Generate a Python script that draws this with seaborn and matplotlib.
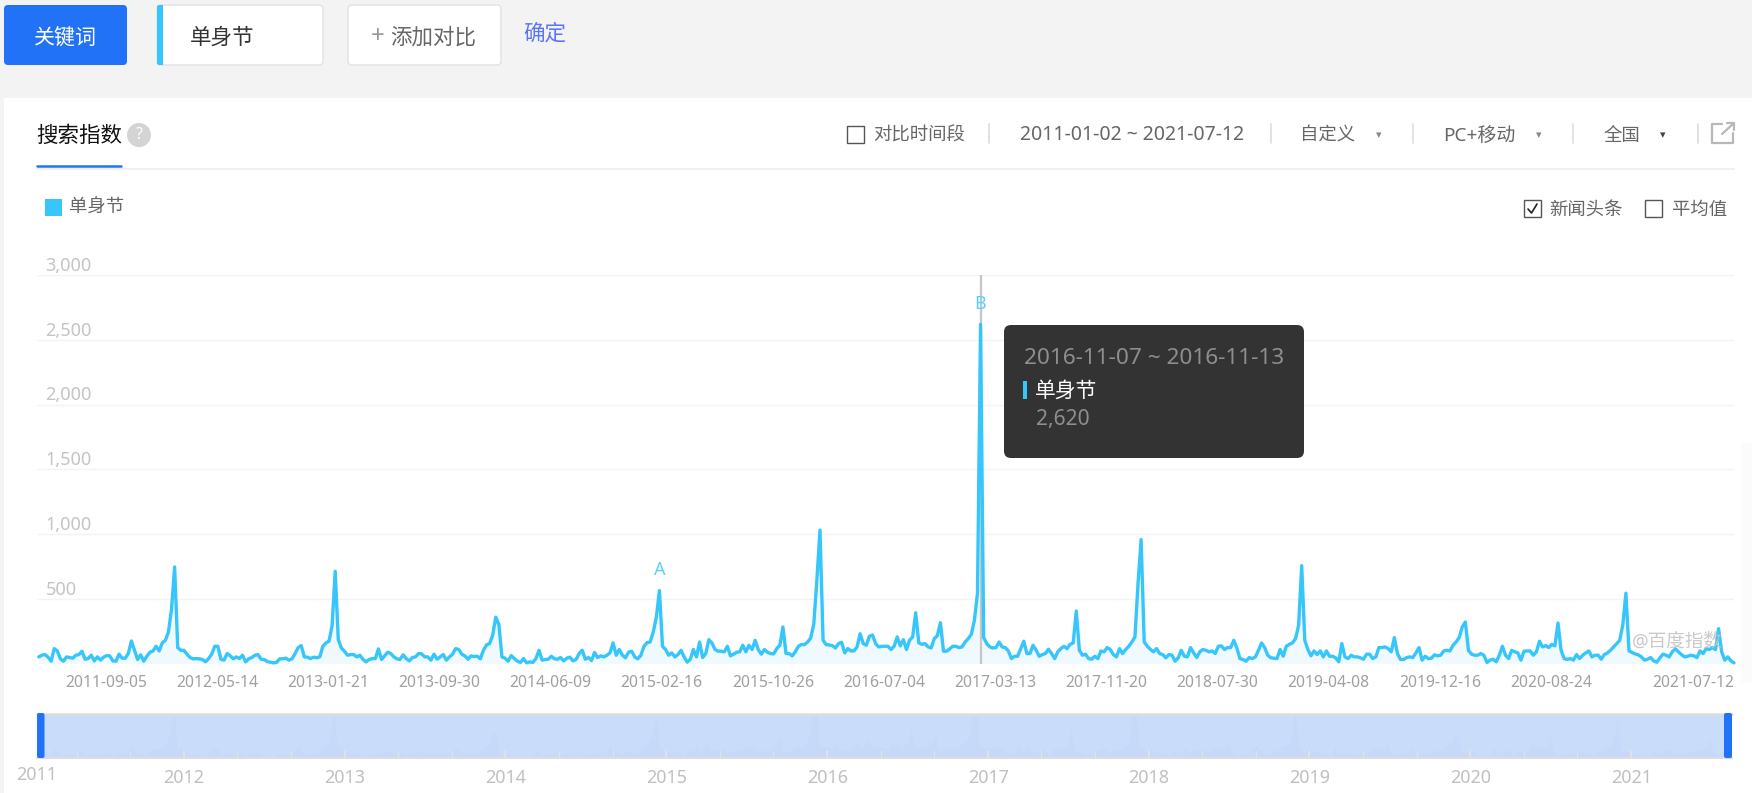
import matplotlib
matplotlib.use("Agg")
import numpy as np
import pandas as pd
import matplotlib.pyplot as plt
import seaborn as sns
from matplotlib.patches import FancyBboxPatch, Rectangle, Circle

sns.set_theme(style="white")
plt.rcParams["font.family"] = ["Noto Sans", "Noto Sans CJK SC", "DejaVu Sans"]
plt.rcParams["axes.unicode_minus"] = False

W, H = 1752, 793
DPI = 100

# ------------------------------------------------------
# DATA (weekly index)
# ------------------------------------------------------
index_2011 = [51, 64, 69, 49, 18, 115, 97, 36, 18, 51, 46, 41, 64, 69, 95, 33, 38, 64, 20, 51, 26, 49, 61, 59, 20, 18,
              72, 41, 41, 77, 174, 102, 31, 67, 18, 56, 87, 97, 133, 97, 159, 179, 243, 420, 745, 123, 102, 102, 72, 46, 36, 38]
index_2012 = [36, 31, 13, 38, 72, 133, 133, 33, 26, 77, 59, 36, 51, 38, 64, 13, 36, 46, 64, 69, 33, 31, 15, 10, 5, 8,
              36, 36, 41, 26, 36, 77, 123, 138, 51, 49, 38, 49, 44, 51, 133, 159, 172, 294, 712, 184, 120, 95, 64, 69, 69, 51]
index_2013 = [64, 31, 13, 31, 38, 38, 113, 31, 59, 87, 77, 51, 36, 31, 67, 38, 20, 46, 51, 77, 74, 51, 51, 26, 72, 33,
              51, 69, 26, 51, 72, 115, 108, 72, 59, 33, 59, 54, 56, 36, 102, 143, 154, 218, 358, 302, 51, 41, 18, 61, 38, 18]
index_2014 = [8, 38, 5, 13, 8, 38, 102, 26, 31, 33, 56, 36, 33, 46, 20, 41, 49, 20, 31, 77, 102, 33, 46, 23, 85, 46,
              59, 51, 64, 82, 159, 64, 108, 64, 44, 87, 95, 51, 36, 64, 133, 161, 166, 243, 358, 563, 133, 108, 64, 82, 51, 69]
index_2015 = [102, 51, 10, 33, 108, 51, 166, 46, 77, 184, 159, 108, 95, 95, 90, 133, 59, 72, 87, 90, 141, 90, 141, 108, 179, 108,
              72, 108, 87, 77, 74, 115, 141, 282, 77, 77, 59, 90, 133, 146, 146, 166, 197, 307, 650, 1030, 179, 146, 143, 138, 120, 154]
index_2016 = [164, 82, 115, 97, 97, 128, 230, 154, 141, 210, 220, 154, 128, 133, 133, 133, 108, 133, 205, 136, 184, 108, 179, 205, 392, 159,
              148, 154, 128, 120, 192, 215, 315, 95, 95, 113, 133, 133, 123, 128, 166, 192, 225, 333, 540, 2620, 200, 154, 128, 120, 123, 166, 128]
index_2017 = [123, 97, 38, 56, 56, 115, 172, 77, 77, 141, 102, 56, 69, 77, 110, 77, 38, 90, 115, 133, 115, 148, 159, 405, 102, 64,
              72, 38, 33, 56, 38, 97, 90, 123, 108, 69, 51, 115, 77, 108, 133, 166, 205, 620, 957, 166, 133, 110, 90, 115, 77, 69]
index_2018 = [44, 69, 64, 18, 44, 102, 56, 51, 123, 82, 46, 90, 108, 102, 90, 97, 77, 133, 136, 108, 123, 123, 179, 120, 38, 31,
              18, 46, 38, 51, 102, 159, 123, 64, 44, 41, 38, 108, 56, 133, 148, 159, 192, 294, 755, 179, 108, 59, 97, 69, 97, 51]
index_2019 = [97, 56, 56, 44, 13, 154, 51, 38, 64, 51, 51, 44, 33, 72, 72, 38, 51, 123, 123, 128, 115, 90, 200, 77, 31, 31,
              46, 51, 46, 82, 123, 26, 56, 38, 41, 67, 59, 64, 97, 102, 97, 141, 166, 200, 282, 320, 102, 72, 64, 64, 77, 64]
index_2020 = [8, 26, 33, 13, 64, 133, 64, 38, 102, 90, 82, 26, 95, 97, 97, 64, 90, 172, 128, 138, 123, 148, 136, 313, 102, 38,
              31, 38, 26, 69, 38, 64, 82, 97, 51, 64, 64, 33, 69, 82, 102, 128, 154, 179, 300, 543, 97, 85, 74, 67, 51, 26]
index_2021 = [33, 46, 20, 10, 44, 72, 64, 51, 90, 113, 90, 69, 51, 56, 64, 59, 46, 97, 77, 115, 108, 123, 108, 269, 90, 26, 51, 20, 5]

y_ticks = [0, 500, 1000, 1500, 2000, 2500, 3000]
y_labels = ["", "500", "1,000", "1,500", "2,000", "2,500", "3,000"]
x_labels = ["2011-09-05", "2012-05-14", "2013-01-21", "2013-09-30", "2014-06-09", "2015-02-16", "2015-10-26",
            "2016-07-04", "2017-03-13", "2017-11-20", "2018-07-30", "2019-04-08", "2019-12-16", "2020-08-24", "2021-07-12"]
slider_years = ["2012", "2013", "2014", "2015", "2016", "2017", "2018", "2019", "2020", "2021"]

peak_a = "2014-11-10"
peak_b = "2016-11-07"

values = np.concatenate([index_2011, index_2012, index_2013, index_2014, index_2015, index_2016,
                         index_2017, index_2018, index_2019, index_2020, index_2021])
df = pd.DataFrame({"date": pd.date_range("2011-01-03", periods=len(values), freq="7D"), "index": values})

LINE = "#36c6fb"
BLUE = "#2272f8"
xlim = (pd.Timestamp("2010-12-30"), pd.Timestamp("2021-07-12"))


def px_axes(left, top, right, bottom, **kw):
    return fig.add_axes([left / W, 1 - bottom / H, (right - left) / W, (bottom - top) / H], **kw)


# ------------------------------------------------------
# PAGE BACKGROUND
# ------------------------------------------------------
fig = plt.figure(figsize=(W / DPI, H / DPI), dpi=DPI, facecolor="#f3f3f3")

back = px_axes(0, 0, W, H, zorder=0)
back.set_xlim(0, W)
back.set_ylim(H, 0)
back.axis("off")
back.add_patch(Rectangle((4, 98), W - 4, H - 98, color="white", lw=0))
back.add_patch(Rectangle((1741, 443), 11, 240, color="#fbfbfb", lw=0))

# ------------------------------------------------------
# MAIN CHART
# ------------------------------------------------------
ax = px_axes(37, 275, 1734, 663.5, zorder=2)
ax.patch.set_alpha(0)
ax.fill_between(df["date"], 0, df["index"], color="#f0f9fe", lw=0, zorder=1)
ax.axvline(pd.Timestamp(peak_b), color="#c6c6c6", lw=1.6, zorder=1.5)
sns.lineplot(data=df, x="date", y="index", ax=ax, color=LINE, lw=2.4, zorder=3, clip_on=False, errorbar=None)
ax.set_xlim(*xlim)
ax.set_ylim(0, 3000)
ax.set_xlabel("")
ax.set_ylabel("")
sns.despine(ax=ax, left=True, bottom=True)

ax.set_yticks(y_ticks)
ax.set_yticklabels(y_labels, ha="left", va="bottom", color="#c4c4c4", fontsize=13)
ax.tick_params(axis="y", length=0, pad=-6)
ax.yaxis.grid(True, color="#f3f3f5", lw=1)
ax.set_axisbelow(True)

ax.set_xticks(pd.to_datetime(x_labels))
ax.set_xticklabels(x_labels, ha="right", color="#a0a0a0", fontsize=11.3)
ax.tick_params(axis="x", length=0, pad=8)

for name, day in (("A", peak_a), ("B", peak_b)):
    when = pd.Timestamp(day)
    ax.annotate(name, (when, df.loc[df["date"] == when, "index"].iloc[0]), xytext=(0, 8),
                textcoords="offset points", ha="center", va="bottom", color="#5dd0fb", fontsize=13, zorder=4)

# ------------------------------------------------------
# RANGE SLIDER
# ------------------------------------------------------
mini = px_axes(37, 714, 1725, 757, zorder=2)
mini.set_facecolor("#c9ddfb")
mini.fill_between(df["date"], 0, df["index"], color="#c7d9f8", lw=0)
mini.set_xlim(*xlim)
mini.set_ylim(0, 600)
mini.set_xticks([])
mini.set_yticks([])
mini.grid(False)
sns.despine(ax=mini, left=True, bottom=True)

# ------------------------------------------------------
# PAGE WIDGETS
# ------------------------------------------------------
top = px_axes(0, 0, W, H, zorder=5)
top.patch.set_alpha(0)
top.set_xlim(0, W)
top.set_ylim(H, 0)
top.axis("off")


def txt(x, y, s, size, color="#666666", ha="left", **kw):
    top.text(x, y, s, fontsize=size * 0.72, color=color, ha=ha, va="center", **kw)


def rbox(x0, y0, x1, y1, fc, ec="none", r=4, lw=1.0, z=1):
    top.add_patch(FancyBboxPatch((x0, y0), x1 - x0, y1 - y0, boxstyle=f"round,pad=0,rounding_size={r}",
                                 fc=fc, ec=ec, lw=lw, zorder=z))


def checkbox(x0, y0, size=17, checked=False):
    top.add_patch(Rectangle((x0, y0), size, size, fc="white", ec="#555555", lw=1))
    if checked:
        top.plot([x0 + 4, x0 + 7.5, x0 + 13], [y0 + 9, y0 + 13, y0 + 4], color="#222222", lw=1.2)


def sep(x, color="#dcdfe2"):
    top.plot([x, x], [124, 143], color=color, lw=1.2)


# keyword row
rbox(4, 5, 127, 65, BLUE)
txt(65, 38, "关键词", 21, "white", ha="center")
rbox(157, 5, 323, 65, "white", "#e2e2e2")
rbox(157, 5, 163, 65, LINE, r=2, z=2)
top.add_patch(Rectangle((160, 5), 3, 60, color=LINE, lw=0, zorder=2))
txt(190, 38, "单身节", 21.5, "#333333")
rbox(348, 5, 501, 65, "white", "#e2e2e2")
txt(378, 37, "+", 24, "#999999", ha="center")
txt(390, 38, "添加对比", 21.5, "#666666")
txt(523, 34, "确定", 21.5, "#5a74fb")

# title row
txt(36.5, 136, "搜索指数", 21.5, "#111111")
top.add_patch(Circle((139, 135), 12, color="#d4d4d4", lw=0))
txt(139, 135, "?", 16, "white", ha="center", fontweight="bold")
top.plot([37, 1734], [168.5, 168.5], color="#eeeeee", lw=1.2, zorder=1)
top.plot([37, 121], [166, 166], color=BLUE, lw=1.8, zorder=2)

checkbox(847, 126)
txt(873, 136, "对比时间段", 18.4)
sep(989, "#d5dde2")
txt(1020, 135, "2011-01-02 ~ 2021-07-12", 19.4)
sep(1271, "#e0dcd6")
txt(1300, 136, "自定义", 18.4)
txt(1379, 135, "▾", 11, "#888888", ha="center", family="DejaVu Sans")
sep(1413, "#dde0e0")
txt(1443, 136, "PC+移动", 19)
txt(1539, 135, "▾", 11, "#888888", ha="center", family="DejaVu Sans")
sep(1573, "#dde0e0")
txt(1604, 136, "全国", 18.4)
txt(1663, 135, "▾", 11, "#444444", ha="center", family="DejaVu Sans")
sep(1698, "#d5dde2")

# share icon
top.plot([1722, 1712, 1712, 1733, 1733], [124, 124, 143, 143, 133], color="#b8b8b8", lw=1.6)
top.plot([1722, 1734], [134, 123], color="#b8b8b8", lw=1.6)
top.plot([1727, 1734, 1734], [123, 123, 130], color="#b8b8b8", lw=1.6)

# legend row
top.add_patch(Rectangle((45, 199), 17, 17, color=LINE, lw=0))
txt(69, 208, "单身节", 18.4)
checkbox(1524, 200, checked=True)
txt(1549, 210, "新闻头条", 18.4)
checkbox(1645, 200)
txt(1672, 210, "平均值", 18.4)

# tooltip
rbox(1004, 325, 1304, 458, "#333333", r=7, z=6)
txt(1024, 359, "2016-11-07 ~ 2016-11-13", 22.6, "#8e8e8e", zorder=7)
top.add_patch(Rectangle((1023, 381), 4, 18, color=LINE, lw=0, zorder=7))
txt(1035, 392, "单身节", 20.8, "white", zorder=7)
txt(1036, 420, "2,620", 21, "#8e8e8e", zorder=7)

# watermark
txt(1632, 641, "@百度指数", 18.5, "#c4c4c4", alpha=0.9)

# slider furniture
top.plot([37, 1732], [714, 714], color="#dcdcdc", lw=1.8, zorder=1)
top.plot([37, 1732], [757.5, 757.5], color="#dddddd", lw=1.5, zorder=1)
for k in range(1, 31):
    tx = 23 + 53.6 * k
    top.plot([tx, tx], [751, 758], color="#e2e2e2", lw=1.3 if k % 3 == 0 else 0.9, zorder=2)
rbox(37, 713, 44.5, 758, BLUE, r=2, z=3)
rbox(1724, 713, 1732, 758, BLUE, r=2, z=3)

txt(36.5, 775, "2011", 18, "#c0c0c0", ha="center")
for k, year in enumerate(slider_years):
    txt(184 + 160.85 * k, 778, year, 18, "#c0c0c0", ha="center")

fig.savefig("out.png", dpi=DPI, facecolor=fig.get_facecolor())
